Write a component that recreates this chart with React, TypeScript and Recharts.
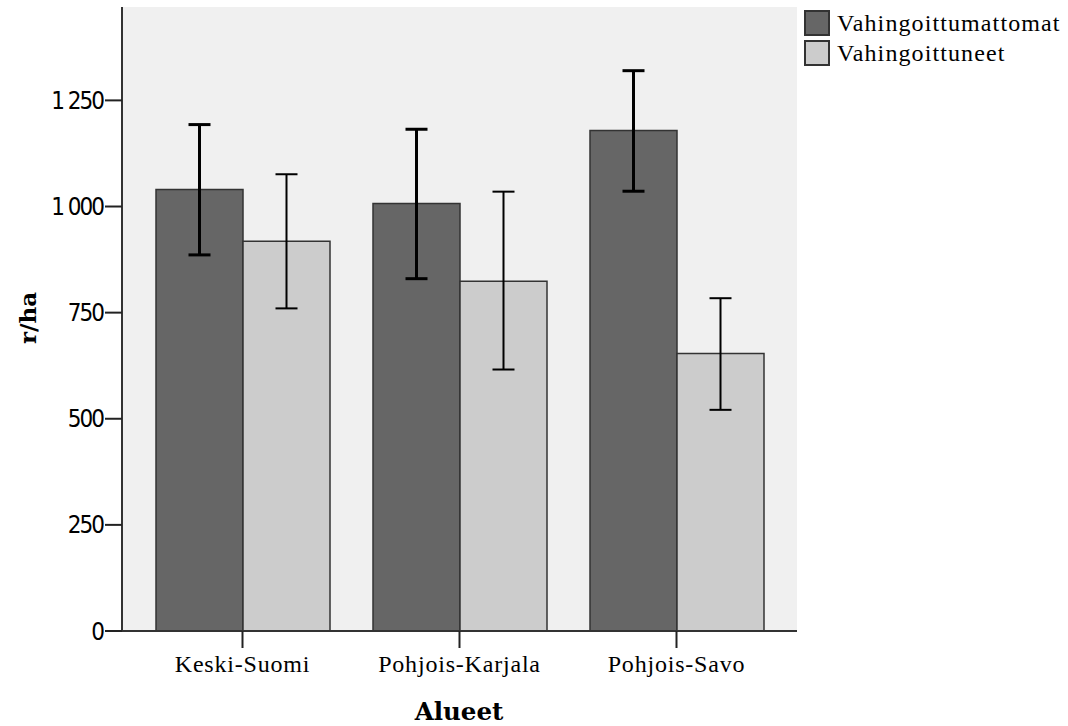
import React from "react";
import { BarChart, Bar, XAxis, YAxis, ErrorBar, CartesianGrid, Legend, Label } from "recharts";

const regions = ["Keski-Suomi", "Pohjois-Karjala", "Pohjois-Savo"];
const intactMean = [1040, 1007, 1179];
const intactLow = [886, 830, 1036];
const intactHigh = [1193, 1182, 1320];
const damagedMean = [918, 824, 654];
const damagedLow = [760, 616, 521];
const damagedHigh = [1076, 1035, 784];
const yTicks = [0, 250, 500, 750, 1000, 1250];

const seriesNames = ["Vahingoittumattomat", "Vahingoittuneet"];
const seriesColors = ["#666666", "#cccccc"];

const data = regions.map((name, i) => ({
  name,
  intact: intactMean[i],
  intactErr: [intactMean[i] - intactLow[i], intactHigh[i] - intactMean[i]],
  damaged: damagedMean[i],
  damagedErr: [damagedMean[i] - damagedLow[i], damagedHigh[i] - damagedMean[i]],
}));

const serif = "'Liberation Serif', 'Times New Roman', serif";
const boldSerif = "'DejaVu Serif', serif";
const narrowSans = "'Liberation Sans Narrow', 'DejaVu Sans Condensed', 'Liberation Sans', sans-serif";

const fmt = (v: number) => (v >= 1000 ? `${Math.floor(v / 1000)} ${String(v % 1000).padStart(3, "0")}` : String(v));

// legend sits in the right margin, so the plot keeps its width
const renderLegend = () => (
  <div style={{ fontFamily: serif, fontSize: 24, color: "#000" }}>
    {seriesNames.map((n, i) => (
      <div key={n} style={{ display: "flex", alignItems: "center", height: 30 }}>
        <div
          style={{
            width: 22,
            height: 22,
            background: seriesColors[i],
            border: "2px solid #333",
            marginRight: 7,
          }}
        />
        <span style={{ letterSpacing: 1.1 }}>{n}</span>
      </div>
    ))}
  </div>
);

export default function App() {
  return (
    <div style={{ position: "absolute", left: 0, top: 0, background: "#fff" }}>
      <BarChart
        width={1068}
        height={726}
        data={data}
        margin={{ top: 7, right: 7, bottom: 0, left: 0 }}
        barCategoryGap={22}
        barGap={0}
      >
        <CartesianGrid horizontal={false} vertical={false} fill="#f0f0f0" />
        <XAxis
          dataKey="name"
          height={95}
          interval={0}
          padding={{ left: 12, right: 12 }}
          axisLine={{ stroke: "#333", strokeWidth: 2 }}
          tickLine={{ stroke: "#222", strokeWidth: 2 }}
          tickSize={17}
          tickMargin={7}
          tick={{ fill: "#000", fontFamily: serif, fontSize: 24, letterSpacing: 0.8 }}
        >
          <Label
            content={() => (
              <text x={459} y={720} textAnchor="middle" fontFamily={boldSerif} fontWeight="bold" fontSize={24.5} fill="#000">
                Alueet
              </text>
            )}
          />
        </XAxis>
        <XAxis
          xAxisId="top"
          orientation="top"
          dataKey="name"
          height={0}
          tick={false}
          tickLine={false}
          axisLine={{ stroke: "#333", strokeWidth: 2 }}
        />
        <YAxis
          width={122}
          domain={[0, 1470]}
          ticks={yTicks}
          tickFormatter={fmt}
          axisLine={{ stroke: "#333", strokeWidth: 2 }}
          tickLine={{ stroke: "#222", strokeWidth: 2 }}
          tickSize={17}
          tickMargin={2}
          tick={{ fill: "#000", fontFamily: narrowSans, fontSize: 24, letterSpacing: -2 }}
        >
          <Label
            content={() => (
              <text
                x={27}
                y={318}
                transform="rotate(-90 27 318)"
                textAnchor="middle"
                dominantBaseline="central"
                fontFamily={boldSerif}
                fontWeight="bold"
                fontSize={23}
                fill="#000"
              >
                r/ha
              </text>
            )}
          />
        </YAxis>
        <YAxis
          yAxisId="right"
          orientation="right"
          width={0}
          tick={false}
          tickLine={false}
          axisLine={{ stroke: "#333", strokeWidth: 2 }}
        />
        <Legend
          verticalAlign="top"
          align="right"
          layout="vertical"
          wrapperStyle={{ position: "absolute", top: 8, left: 804, width: 264 }}
          content={renderLegend}
        />
        <Bar dataKey="intact" name={seriesNames[0]} fill={seriesColors[0]} stroke="#333" strokeWidth={1.5} isAnimationActive={false}>
          <ErrorBar dataKey="intactErr" width={11} stroke="#000" strokeWidth={3} />
        </Bar>
        <Bar dataKey="damaged" name={seriesNames[1]} fill={seriesColors[1]} stroke="#333" strokeWidth={1.5} isAnimationActive={false}>
          <ErrorBar dataKey="damagedErr" width={11} stroke="#000" strokeWidth={2} />
        </Bar>
      </BarChart>
    </div>
  );
}
